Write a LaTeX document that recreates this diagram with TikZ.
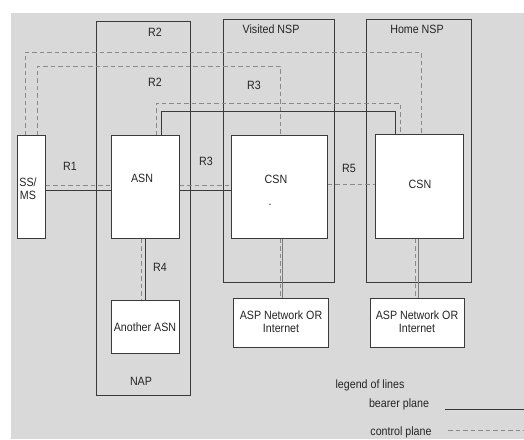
\documentclass[tikz,border=0pt]{standalone}
\usepackage{fontspec}
\setmainfont[FakeStretch=0.89]{Liberation Sans}
\usetikzlibrary{calc}
\definecolor{bg}{HTML}{D9D9D9}
\definecolor{edge}{HTML}{3A3A3A}
\definecolor{ctrlc}{HTML}{8A8A8A}
\definecolor{txt}{HTML}{252525}
\tikzset{
  box/.style={draw=edge, line width=0.9pt, fill=white, anchor=north west, inner sep=0pt},
  area/.style={draw=edge, line width=0.9pt, anchor=north west, inner sep=0pt},
  lbl/.style={text=txt, font=\fontsize{12}{13}\selectfont, inner sep=0pt, align=center},
  bearer/.style={draw=edge, line width=0.9pt},
  bearerlight/.style={draw=ctrlc!90!black, line width=0.9pt},
  ctrl/.style={draw=ctrlc, line width=1pt, dash pattern=on 4.5pt off 3pt}
}
\begin{document}
\begin{tikzpicture}[x=1pt, y=-1pt]
\useasboundingbox (0,0) rectangle (524,439);
\fill[bg] (11,13) rectangle (524,439);

% domain frames
\node[area, minimum width=94pt, minimum height=374pt] (nap) at (96,21) {};
\node[area, minimum width=111pt, minimum height=263pt] (vnsp) at (223,19) {};
\node[area, minimum width=105pt, minimum height=263pt] (hnsp) at (366,19) {};

% functional entities
\node[box, minimum width=28pt, minimum height=103pt] (ssms) at (17,135) {};
\node[box, minimum width=68pt, minimum height=103pt] (asn) at (111,135) {};
\node[box, minimum width=96pt, minimum height=103pt] (vcsn) at (231,135) {};
\node[box, minimum width=88pt, minimum height=104pt] (hcsn) at (375,134) {};
\node[box, minimum width=68pt, minimum height=53pt] (oasn) at (111,300) {};
\node[box, minimum width=95pt, minimum height=49pt] (vasp) at (233,298) {};
\node[box, minimum width=94pt, minimum height=49pt] (hasp) at (370,298) {};

% corner points of the routed reference points
\coordinate (r2a) at (25,52);   \coordinate (r2b) at (421,52);
\coordinate (r2c) at (37,66);   \coordinate (r2d) at (280,66);
\coordinate (r3a) at (156,103); \coordinate (r3b) at (400,103);
\coordinate (r3c) at (161,111); \coordinate (r3d) at (395,111);
\coordinate (hc) at (0,185);    \coordinate (hb) at (0,190);
\coordinate (h5) at (0,184);
\coordinate (v4c) at (141,0);   \coordinate (v4b) at (145,0);
\coordinate (vvc) at (280,0);   \coordinate (vvb) at (282,0);
\coordinate (hvc) at (415,0);   \coordinate (hvb) at (418,0);

% R2 control paths
\draw[ctrl] (ssms.north -| r2a) -- (r2a) -- (r2b) -- (hcsn.north -| r2b);
\draw[ctrl] (ssms.north -| r2c) -- (r2c) -- (r2d) -- (vcsn.north -| r2d);
% ASN to home CSN
\draw[ctrl] (asn.north -| r3a) -- (r3a) -- (r3b) -- (hcsn.north -| r3b);
\draw[bearer] (asn.north -| r3c) -- (r3c) -- (r3d) -- (hcsn.north -| r3d);

% R1, R3, R5
\draw[ctrl] (ssms.east |- hc) -- (asn.west |- hc);
\draw[bearer] (ssms.east |- hb) -- (asn.west |- hb);
\draw[ctrl] (asn.east |- hc) -- (vcsn.west |- hc);
\draw[bearer] (asn.east |- hb) -- (vcsn.west |- hb);
\draw[ctrl] (vcsn.east |- h5) -- (hcsn.west |- h5);

% R4
\draw[ctrl] (asn.south -| v4c) -- (oasn.north -| v4c);
\draw[bearer] (asn.south -| v4b) -- (oasn.north -| v4b);

% CSN to ASP network
\draw[ctrl] (vcsn.south -| vvc) -- (vasp.north -| vvc);
\draw[bearerlight] (vcsn.south -| vvb) -- (vasp.north -| vvb);
\draw[ctrl] (hcsn.south -| hvc) -- (hasp.north -| hvc);
\draw[bearerlight] (hcsn.south -| hvb) -- (hasp.north -| hvb);

% labels
\node[lbl] (l1) at (155,32) {R2};
\node[lbl] (l2) at (155,82) {R2};
\node[lbl] (l3) at (254,85) {R3};
\node[lbl] (l4) at (70,166) {R1};
\node[lbl] (l5) at (206,161) {R3};
\node[lbl] (l6) at (349,168) {R5};
\node[lbl] (l7) at (160,267) {R4};
\node[lbl] (l8) at (141,381) {NAP};
\node[lbl] (l9) at (271,29) {Visited NSP};
\node[lbl] (l10) at (417,29) {Home NSP};

\node[lbl] (t1) at (28,189) {SS/\\MS};
\node[lbl] (t2) at (142,178) {ASN};
\node[lbl] (t3) at (276,179) {CSN};
\node[lbl] (t3d) at (270,205) {.};
\node[lbl] (t4) at (420,184) {CSN};
\node[lbl] (t5) at (145,327) {Another ASN};
\node[lbl] (t6) at (281,322) {ASP Network OR\\Internet};
\node[lbl] (t7) at (417,322) {ASP Network OR\\Internet};

% legend
\node[lbl] (g0) at (370,385) {legend of lines};
\node[lbl] (g1) at (399,404) {bearer plane};
\node[lbl] (g2) at (401,432) {control plane};
\coordinate (gb) at (524,409);
\coordinate (gc) at (524,430);
\draw[bearer] (445,409) -- (gb);
\draw[ctrl] (448,430) -- (gc);
\end{tikzpicture}
\end{document}
